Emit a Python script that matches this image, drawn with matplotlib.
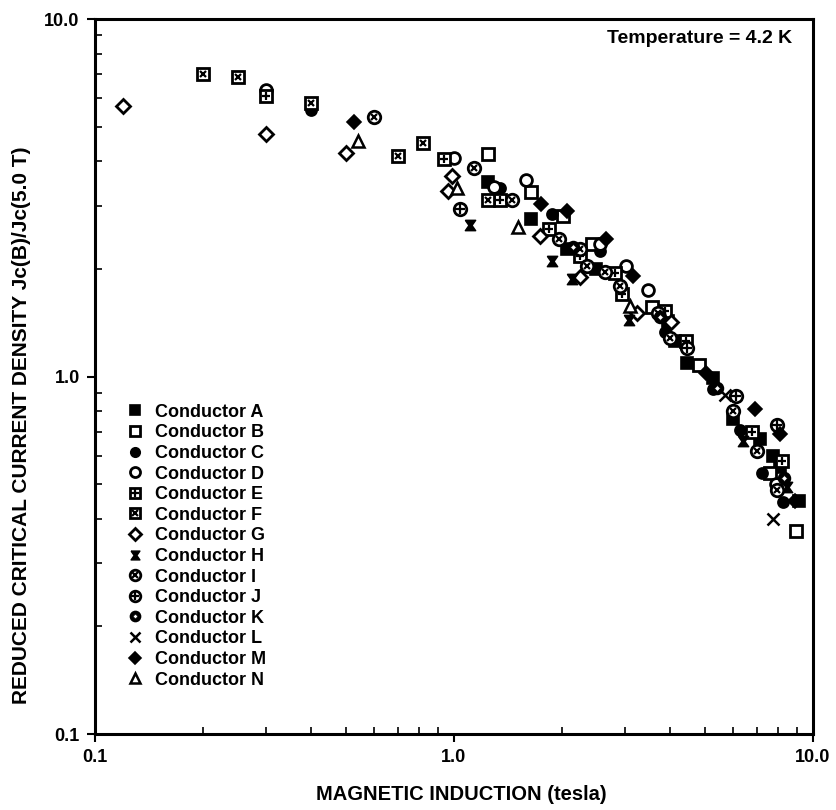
import numpy as np
import matplotlib.pyplot as plt
from matplotlib.path import Path
from matplotlib.legend_handler import HandlerTuple

plt.rcParams['font.family'] = ['Liberation Sans', 'DejaVu Sans']
plt.rcParams['font.weight'] = 'bold'

# magnetic induction (tesla) and reduced Jc, one pair of lists per conductor
a_b = [1.24, 1.64, 2.06, 2.49, 3.95, 4.13, 4.46, 5.27, 6.0, 7.11, 7.74, 8.1, 9.15]
a_jc = [3.50, 2.75, 2.28, 2.0, 1.43, 1.26, 1.09, 0.99, 0.76, 0.67, 0.60, 0.56, 0.45]
b_b = [1.24, 1.64, 2.01, 2.42, 3.56, 4.82, 7.6, 8.97]
b_jc = [4.18, 3.29, 2.81, 2.35, 1.56, 1.08, 0.537, 0.37]
c_b = [0.4, 1.34, 1.88, 2.55, 3.87, 5.27, 6.27, 7.2, 8.26]
c_jc = [5.55, 3.36, 2.85, 2.25, 1.33, 0.92, 0.71, 0.537, 0.446]
d_b = [0.3, 1.0, 1.29, 1.59, 2.55, 3.01, 3.48, 7.9]
d_jc = [6.34, 4.09, 3.40, 3.55, 2.35, 2.04, 1.75, 0.50]
e_b = [0.3, 0.94, 1.34, 1.84, 2.24, 2.8, 2.93, 3.87, 4.43, 6.75, 8.18]
e_jc = [6.08, 4.05, 3.12, 2.58, 2.18, 1.95, 1.70, 1.53, 1.26, 0.70, 0.58]
f_b = [0.2, 0.25, 0.4, 0.7, 0.82, 1.24]
f_jc = [7.0, 6.9, 5.82, 4.13, 4.5, 3.12]
g_b = [0.12, 0.3, 0.5, 0.99, 0.96, 1.74, 2.24, 3.23, 4.03]
g_jc = [5.7, 4.78, 4.23, 3.64, 3.30, 2.47, 1.90, 1.51, 1.42]
h_b = [1.11, 1.87, 2.13, 3.07, 6.4, 8.45]
h_jc = [2.65, 2.11, 1.88, 1.44, 0.66, 0.49]
i_b = [0.6, 1.14, 1.45, 1.96, 2.24, 2.34, 2.63, 2.9, 3.71, 4.0, 6.0, 6.97, 7.93]
i_jc = [5.31, 3.84, 3.12, 2.42, 2.28, 2.04, 1.96, 1.79, 1.51, 1.28, 0.80, 0.62, 0.48]
j_b = [1.04, 4.46, 6.12, 7.93]
j_jc = [2.95, 1.20, 0.88, 0.73]
k_b = [2.15, 3.75, 5.4, 8.3]
k_jc = [2.30, 1.47, 0.93, 0.52]
l_b = [5.69, 7.74]
l_jc = [0.89, 0.40]
m_b = [0.525, 1.75, 2.06, 2.65, 3.16, 5.03, 6.89, 8.1, 8.9]
m_jc = [5.15, 3.03, 2.90, 2.42, 1.91, 1.02, 0.81, 0.69, 0.45]
n_b = [0.54, 1.02, 1.51, 3.09]
n_jc = [4.55, 3.36, 2.62, 1.58]

names = ['Conductor ' + c for c in 'ABCDEFGHIJKLMN']
b_vals = [a_b, b_b, c_b, d_b, e_b, f_b, g_b, h_b, i_b, j_b, k_b, l_b, m_b, n_b]
jc_vals = [a_jc, b_jc, c_jc, d_jc, e_jc, f_jc, g_jc, h_jc, i_jc, j_jc, k_jc, l_jc, m_jc, n_jc]

hourglass = Path([(-1, 1), (1, 1), (0.3, 0), (1, -1), (-1, -1), (-0.3, 0), (-1, 1)])

# marker layers: (marker, size, face, edge width)
styles = [
    [('s', 8, 'black', 1.2)],
    [('s', 8, 'white', 2.0)],
    [('o', 8, 'black', 1.2)],
    [('o', 8.5, 'white', 2.0)],
    [('s', 8.5, 'white', 2.0), ('+', 6, 'black', 1.6)],
    [('s', 8.5, 'white', 2.0), ('x', 5, 'black', 1.6)],
    [('D', 7, 'white', 2.0)],
    [(hourglass, 7.5, 'black', 1.0)],
    [('o', 9, 'white', 2.0), ('x', 5, 'black', 1.6)],
    [('o', 9, 'white', 2.0), ('+', 6.5, 'black', 1.6)],
    [('o', 8.5, 'black', 1.2), ('D', 3, 'white', 0.5)],
    [('x', 9, 'black', 1.8)],
    [('D', 7.5, 'black', 1.2)],
    [('^', 8.5, 'white', 1.8)],
]

fig = plt.figure(figsize=(8.36, 8.10), dpi=100)
ax = fig.add_axes([0.1136, 0.0938, 0.8589, 0.8827])

handles = []
for bx, jy, layers in zip(b_vals, jc_vals, styles):
    hs = []
    for mk, ms, fc, ew in layers:
        h, = ax.plot(bx, jy, ls='none', marker=mk, ms=ms, mfc=fc, mec='black', mew=ew)
        hs.append(h)
    handles.append(tuple(hs))

ax.set_xscale('log')
ax.set_yscale('log')
ax.set_xlim(0.1, 10)
ax.set_ylim(0.1, 10)
ax.set_xticks([0.1, 1, 10])
ax.set_xticklabels(['0.1', '1.0', '10.0'])
ax.set_yticks([0.1, 1, 10])
ax.set_yticklabels(['0.1', '1.0', '10.0'])
ax.tick_params(which='major', direction='out', length=6, width=1.5, labelsize=13, pad=5)
ax.tick_params(which='minor', direction='in', length=5, width=1.2)
for s in ax.spines.values():
    s.set_linewidth(2.2)

fig.text(0.552, 1 - 795 / 810, 'MAGNETIC INDUCTION (tesla)', ha='center', va='center',
         fontsize=14.5, fontweight='bold')
fig.text(22 / 836, 1 - 425 / 810, 'REDUCED CRITICAL CURRENT DENSITY Jc(B)/Jc(5.0 T)',
         rotation=90, ha='center', va='center', fontsize=15, fontweight='bold')
ax.text(0.9708, 0.9664, 'Temperature = 4.2 K', transform=ax.transAxes, ha='right', va='baseline',
        fontsize=14, fontweight='bold')

ax.legend(handles, names, handler_map={tuple: HandlerTuple(ndivide=1)},
          loc='upper left', bbox_to_anchor=(0.046, 0.462), frameon=False,
          fontsize=13, markerscale=0.85, handlelength=0.8, handletextpad=0.7,
          labelspacing=0.2, borderpad=0, borderaxespad=0)

fig.savefig('out.png', dpi=100)
